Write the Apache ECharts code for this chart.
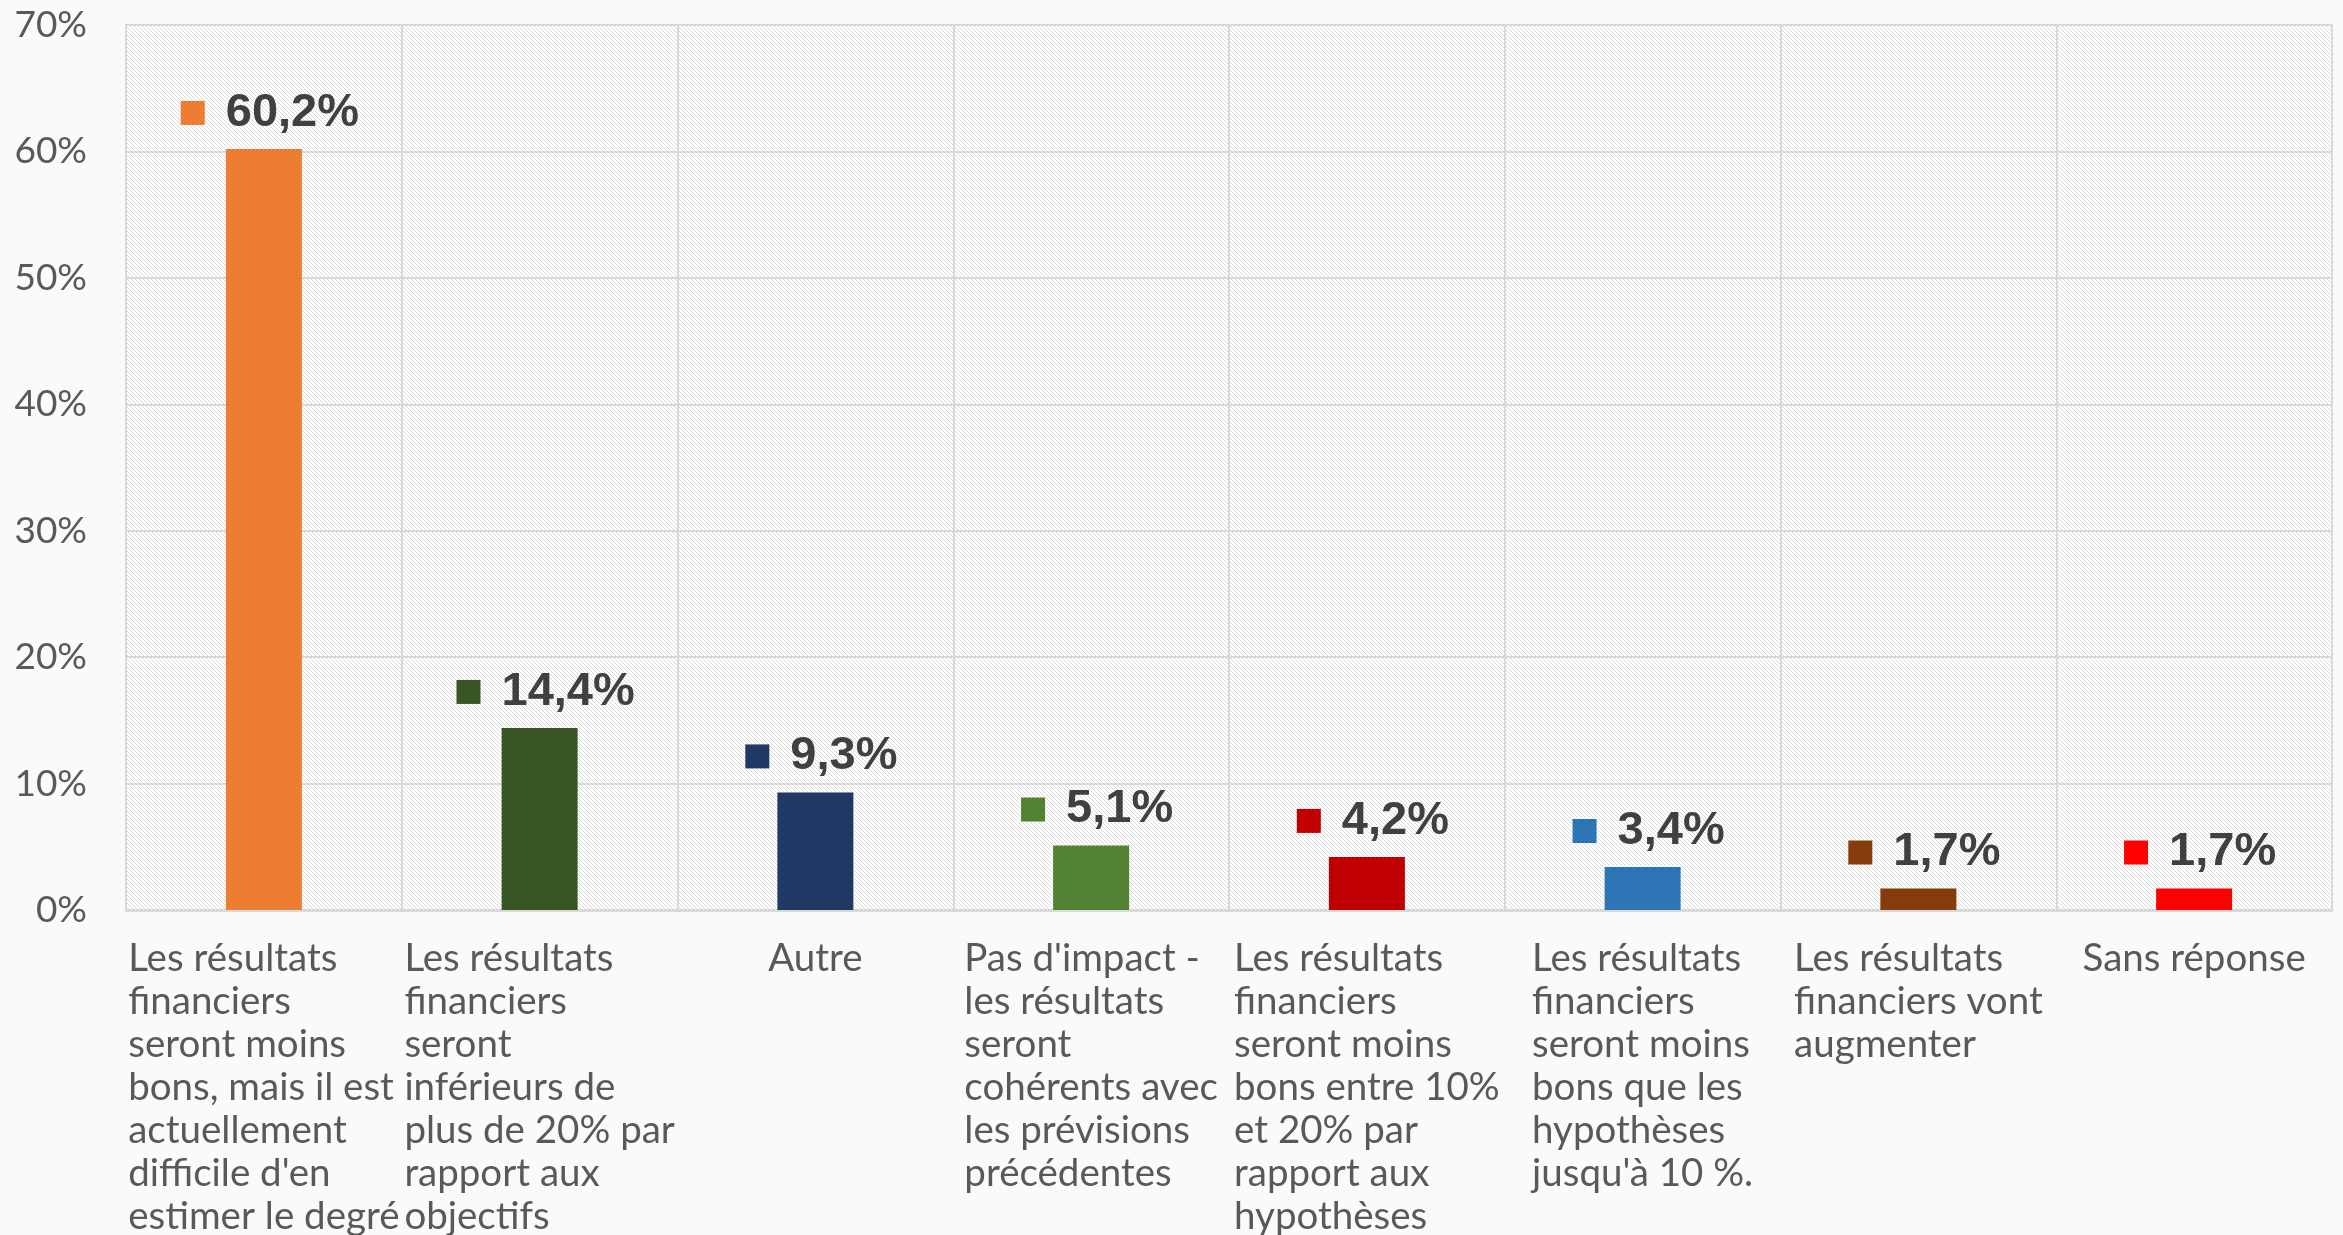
<!DOCTYPE html>
<html>
<head>
<meta charset="utf-8">
<script src="https://cdn.jsdelivr.net/npm/echarts@6/dist/echarts.min.js"></script>
<style>
html,body{margin:0;padding:0;background:#fafafa;}
#chart{width:2343px;height:1235px;}
</style>
</head>
<body>
<div id="chart"></div>
<script>
const categories = [
  "Les résultats\nfinanciers\nseront moins\nbons, mais il est\nactuellement\ndifficile d'en\nestimer le degré",
  "Les résultats\nfinanciers\nseront\ninférieurs de\nplus de 20% par\nrapport aux\nobjectifs",
  "Autre",
  "Pas d'impact -\nles résultats\nseront\ncohérents avec\nles prévisions\nprécédentes",
  "Les résultats\nfinanciers\nseront moins\nbons entre 10%\net 20% par\nrapport aux\nhypothèses",
  "Les résultats\nfinanciers\nseront moins\nbons que les\nhypothèses\njusqu'à 10 %.",
  "Les résultats\nfinanciers vont\naugmenter",
  "Sans réponse"
];
const values = [60.2, 14.4, 9.3, 5.1, 4.2, 3.4, 1.7, 1.7];
const barColors = ["#ED7D31", "#375623", "#203864", "#548235", "#C00000", "#2E75B6", "#843C0C", "#FF0000"];
const yTicks = [0, 10, 20, 30, 40, 50, 60, 70];

// hatch pattern (light downward diagonal)
const pc = document.createElement('canvas');
pc.width = 4; pc.height = 4;
const pctx = pc.getContext('2d');
pctx.fillStyle = '#ffffff';
pctx.fillRect(0, 0, 4, 4);
pctx.fillStyle = '#d9d9d9';
for (let i = 0; i < 4; i++) pctx.fillRect(i, i, 1, 1);

const labelFont = "Lato, 'Open Sans', sans-serif";

const rich = {
  v: { fontFamily: "'Liberation Sans', Arial, sans-serif", fontWeight: 'bold', fontSize: 47, color: '#404040', lineHeight: 52 },
  g: { width: 21 }
};
barColors.forEach((c, i) => {
  rich['s' + i] = { width: 24, height: 24, backgroundColor: c };
});

const chart = echarts.init(document.getElementById('chart'));
chart.setOption({
  backgroundColor: '#fafafa',
  animation: false,
  grid: {
    show: true,
    left: 126, right: 11, top: 25, bottom: 325,
    containLabel: false,
    outerBoundsMode: 'none',
    backgroundColor: { image: pc, repeat: 'repeat' },
    borderColor: '#d9d9d9', borderWidth: 2
  },
  xAxis: {
    type: 'category',
    data: categories,
    axisLine: { show: true, lineStyle: { color: '#d9d9d9', width: 3 } },
    axisTick: { show: false },
    splitLine: { show: true, lineStyle: { color: '#d9d9d9', width: 2 } },
    axisLabel: {
      interval: 0,
      margin: 27,
      align: 'center',
      color: '#595959',
      fontFamily: labelFont,
      fontSize: 38.5,
      lineHeight: 43,
      formatter: v => v.split('\n').map(l => '{l|' + l + '}').join('\n'),
      rich: { l: { align: 'left', color: '#595959', fontFamily: labelFont, fontSize: 38.5, lineHeight: 43 } }
    }
  },
  yAxis: {
    type: 'value',
    min: yTicks[0], max: yTicks[yTicks.length - 1], interval: 10,
    axisLine: { show: false },
    axisTick: { show: false },
    splitLine: { show: true, lineStyle: { color: '#d9d9d9', width: 2 } },
    axisLabel: { formatter: '{value}%', color: '#595959', fontFamily: labelFont, fontSize: 37, margin: 39 }
  },
  series: [{
    type: 'bar',
    barWidth: 76,
    data: values.map((v, i) => ({ value: v, itemStyle: { color: barColors[i] } })),
    label: {
      show: true,
      position: 'top',
      distance: 10,
      offset: [6, 0],
      formatter: p => '{s' + p.dataIndex + '|}{g|}{v|' + p.value.toFixed(1).replace('.', ',') + '%}',
      rich: rich
    }
  }]
});
</script>
</body>
</html>
